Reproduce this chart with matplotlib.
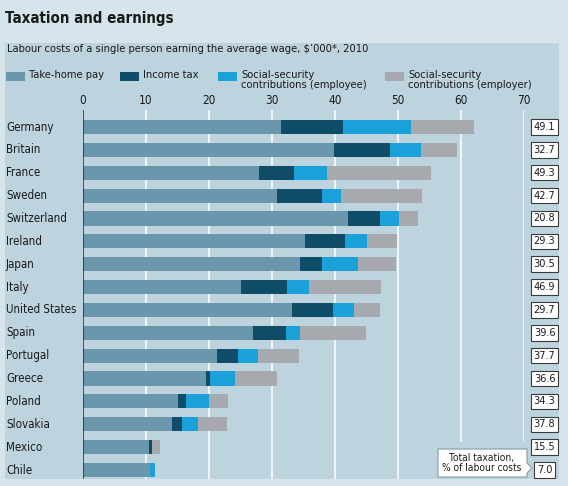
import matplotlib
matplotlib.use('Agg')
import matplotlib.pyplot as plt
import numpy as np
from matplotlib import font_manager
from matplotlib.patches import Rectangle, Polygon
from matplotlib.transforms import blended_transform_factory

cond = [f for f in font_manager.fontManager.ttflist
        if f.name == 'DejaVu Sans' and f.stretch in ('condensed', 600, 'semi-condensed')]
HAS_COND = len(cond) > 0
if HAS_COND:
    plt.rcParams['font.family'] = ['DejaVu Sans']
    plt.rcParams['font.stretch'] = 'condensed'
else:
    plt.rcParams['font.family'] = ['Roboto', 'DejaVu Sans']

countries = ['Germany', 'Britain', 'France', 'Sweden', 'Switzerland', 'Ireland', 'Japan',
             'Italy', 'United States', 'Spain', 'Portugal', 'Greece', 'Poland', 'Slovakia',
             'Mexico', 'Chile']
take_home = [31.5, 39.9, 28.0, 30.8, 42.1, 35.2, 34.5, 25.1, 33.1, 27.0, 21.3, 19.5, 15.0, 14.1, 10.4, 10.7]
income_tax = [9.7, 8.9, 5.5, 7.2, 5.1, 6.4, 3.4, 7.3, 6.6, 5.3, 3.3, 0.7, 1.4, 1.6, 0.5, 0.0]
ss_employee = [10.8, 4.8, 5.3, 2.9, 2.9, 3.4, 5.8, 3.4, 3.3, 2.2, 3.1, 3.9, 3.6, 2.5, 0.0, 0.8]
ss_employer = [10.0, 5.8, 16.5, 12.9, 3.1, 4.9, 6.0, 11.5, 4.2, 10.4, 6.6, 6.7, 3.0, 4.7, 1.3, 0.0]
total_tax_pct = ['49.1', '32.7', '49.3', '42.7', '20.8', '29.3', '30.5', '46.9', '29.7', '39.6',
                 '37.7', '36.6', '34.3', '37.8', '15.5', '7.0']
xticks = [0, 10, 20, 30, 40, 50, 60, 70]

series_names = ['Take-home pay', 'Income tax', 'Social-security\ncontributions (employee)',
                'Social-security\ncontributions (employer)']
colors = ['#6a97ac', '#0f4c68', '#1aa1da', '#a6a9ae']

W, H = 568, 486
BG = '#d6e4eb'
PANEL = '#bdd3de'
fig = plt.figure(figsize=(W / 100, H / 100), dpi=100, facecolor=BG)

def fx(px):
    return px / W

def fy(py):
    return 1 - py / H

# panel
fig.patches.append(Rectangle((fx(5), fy(479)), fx(559) - fx(5), fy(43) - fy(479),
                             transform=fig.transFigure, facecolor=PANEL, edgecolor='none', zorder=-5))

# title & subtitle
fig.text(fx(5), fy(19), 'Taxation and earnings', fontsize=10.8, fontweight='bold',
         color='#1a1a1a', va='center', ha='left')
fig.text(fx(7), fy(49), 'Labour costs of a single person earning the average wage, $\u2019000*, 2010',
         fontsize=8, color='#1a1a1a', va='center', ha='left')

# legend (manual)
leg_x = [6, 120, 218, 385]
for x0, name, c in zip(leg_x, series_names, colors):
    fig.patches.append(Rectangle((fx(x0), fy(81)), fx(19), fy(72) - fy(81),
                                 transform=fig.transFigure, facecolor=c, edgecolor='none', zorder=-4))
    fig.text(fx(x0 + 23), fy(70), name, fontsize=8, color='#1a1a1a', va='top', ha='left',
             linespacing=0.95)

# axes
top_px, bot_px = 110, 479
first_px, last_px = 127, 470
n = len(countries)
sp = (last_px - first_px) / (n - 1)
ax = fig.add_axes([fx(83), fy(bot_px), fx(524) - fx(83), fy(top_px) - fy(bot_px)])
ax.set_facecolor('none')
ax.set_xlim(0, 70)
ax.set_ylim((n - 1) + (bot_px - last_px) / sp, -(first_px - top_px) / sp)
for s in ax.spines.values():
    s.set_visible(False)

y = np.arange(n)
left = np.zeros(n)
for vals, c in zip([take_home, income_tax, ss_employee, ss_employer], colors):
    v = np.array(vals)
    ax.barh(y, v, left=left, height=0.62, color=c, edgecolor='none', zorder=3)
    left += v

grid_cut = (bot_px - 441) / (bot_px - top_px)
for t in xticks[1:]:
    ymin = grid_cut if t >= 60 else 0
    ax.axvline(t, ymin=ymin, ymax=1, color='white', lw=1.1, zorder=1)
ax.axvline(0, color='#2b2b2b', lw=1.1, zorder=4)

ax.set_xticks(xticks)
ax.set_xticklabels([str(t) for t in xticks])
ax.tick_params(axis='x', top=True, bottom=False, labeltop=True, labelbottom=False,
               length=0, pad=2.5, labelsize=8.5, labelcolor='#1a1a1a')
ax.set_yticks([])

tr = blended_transform_factory(fig.transFigure, ax.transData)
for i, (c, p) in enumerate(zip(countries, total_tax_pct)):
    ax.text(fx(6), i, c, transform=tr, ha='left', va='center', fontsize=8.3, color='#1a1a1a',
            clip_on=False)
    ax.text(fx(544.5), i, p, transform=tr, ha='center', va='center', fontsize=7.8, color='#1a1a1a',
            clip_on=False,
            bbox=dict(boxstyle='square,pad=0.25', facecolor='white', edgecolor='#3a3a3a', lw=0.8))

# annotation callout
pts = [(438, 449), (527, 449), (527, 463), (532, 468), (527, 473), (527, 477), (438, 477)]
fig.patches.append(Polygon([(fx(a), fy(b)) for a, b in pts], closed=True, transform=fig.transFigure,
                           facecolor='white', edgecolor='#8a9aa3', lw=0.8, zorder=5))
fig.text(fx(482), fy(463), 'Total taxation,\n% of labour costs', fontsize=7.3, color='#1a1a1a',
         ha='center', va='center', linespacing=1.05, zorder=6)

fig.savefig('out.png', dpi=100, facecolor=BG)
